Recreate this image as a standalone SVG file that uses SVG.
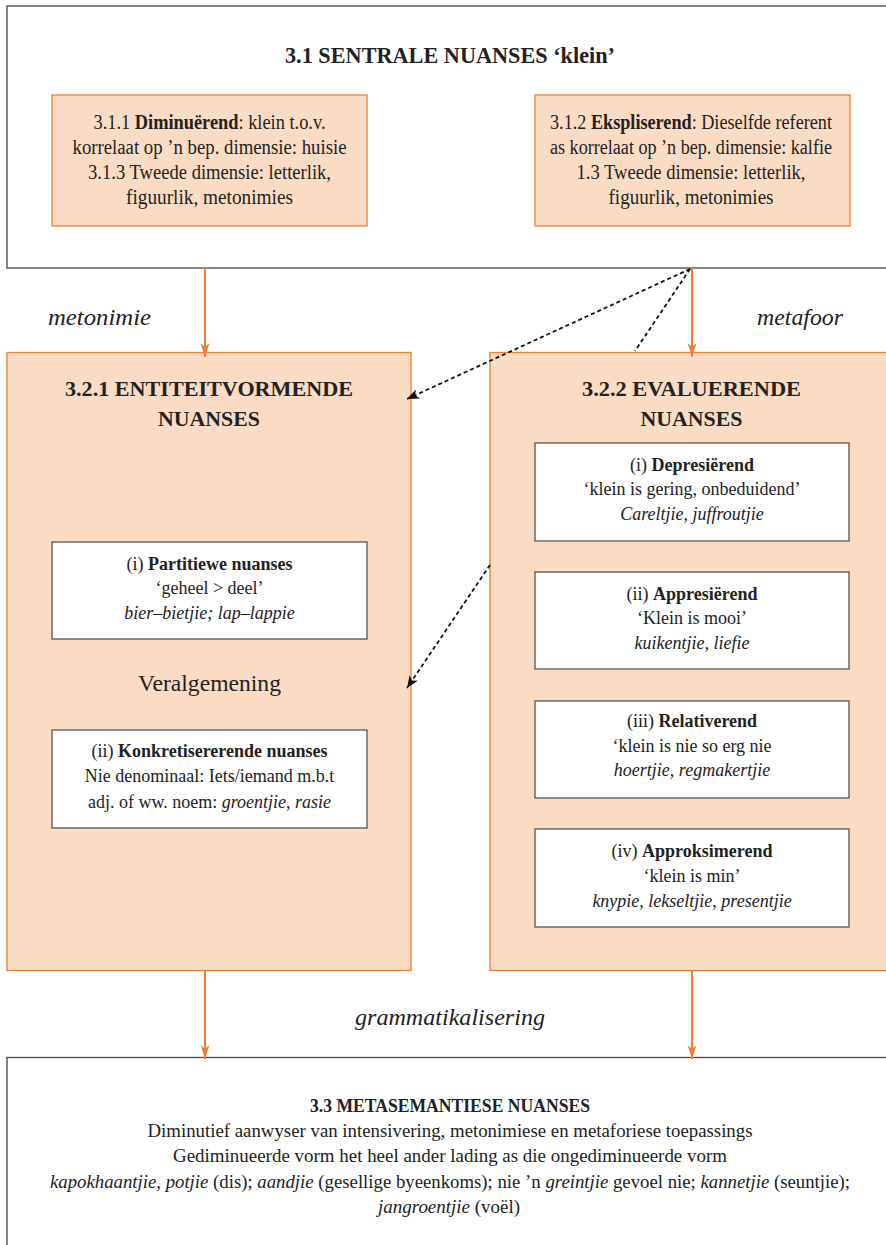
<svg xmlns="http://www.w3.org/2000/svg" width="886" height="1245" viewBox="0 0 886 1245">
<defs>
<style>
text{font-family:"Liberation Serif","Times New Roman",serif;fill:#222;text-anchor:middle}
.frame{fill:#fff;stroke:#444;stroke-width:1.3}
.peach{fill:#fadcc5;stroke:#ee7d32;stroke-width:1.3}
.white{fill:#fff;stroke:#555;stroke-width:1.3}
.t20{font-size:20px}
.t18{font-size:18px}
.h22{font-size:22px;font-weight:bold}
.lab{font-size:23px;font-style:italic}
.or{stroke:#ee7d32;stroke-width:2;fill:none}
.ds{stroke:#111;stroke-width:1.8;stroke-dasharray:4 3;fill:none}
b,.b{font-weight:bold}
.i{font-style:italic}
</style>
<marker id="oa" viewBox="-1 -6 16 12" refX="14" refY="0" markerWidth="16" markerHeight="12" markerUnits="userSpaceOnUse" orient="auto">
<path d="M0,-4.5 L14,0 L0,4.5 L4,0 Z" fill="#ee7d32"/>
</marker>
<marker id="ba" viewBox="-1 -6 14 12" refX="12" refY="0" markerWidth="14" markerHeight="12" markerUnits="userSpaceOnUse" orient="auto">
<path d="M0,-5 L12,0 L0,5 L3,0 Z" fill="#111"/>
</marker>
</defs>

<g id="n31">
<rect class="frame" x="7" y="6" width="900" height="262"/>
<text class="h22" x="450" y="63" textLength="330" lengthAdjust="spacingAndGlyphs" style="font-size:23px">3.1 SENTRALE NUANSES ‘klein’</text>
</g>

<g id="n311">
<rect class="peach" x="52" y="95" width="315" height="131"/>
<text class="t20" x="209.5" y="129" textLength="232" lengthAdjust="spacingAndGlyphs">3.1.1 <tspan class="b">Diminuërend</tspan>: klein t.o.v.</text>
<text class="t20" x="209.5" y="154" textLength="274" lengthAdjust="spacingAndGlyphs">korrelaat op ’n bep. dimensie: huisie</text>
<text class="t20" x="209.5" y="179" textLength="243" lengthAdjust="spacingAndGlyphs">3.1.3 Tweede dimensie: letterlik,</text>
<text class="t20" x="209.5" y="204" textLength="167" lengthAdjust="spacingAndGlyphs">figuurlik, metonimies</text>
</g>

<g id="n312">
<rect class="peach" x="535" y="95" width="315" height="131"/>
<text class="t20" x="691" y="129" textLength="282" lengthAdjust="spacingAndGlyphs">3.1.2 <tspan class="b">Ekspliserend</tspan>: Dieselfde referent</text>
<text class="t20" x="691" y="154" textLength="282" lengthAdjust="spacingAndGlyphs">as korrelaat op ’n bep. dimensie: kalfie</text>
<text class="t20" x="691" y="179" textLength="229" lengthAdjust="spacingAndGlyphs">1.3 Tweede dimensie: letterlik,</text>
<text class="t20" x="691" y="204" textLength="165" lengthAdjust="spacingAndGlyphs">figuurlik, metonimies</text>
</g>

<g id="n321">
<rect class="peach" x="7" y="352.5" width="404" height="618"/>
<text class="h22" x="209" y="396" textLength="288" lengthAdjust="spacingAndGlyphs">3.2.1 ENTITEITVORMENDE</text>
<text class="h22" x="209" y="426" textLength="102" lengthAdjust="spacingAndGlyphs">NUANSES</text>
<text x="209.5" y="691" style="font-size:23px" textLength="143" lengthAdjust="spacingAndGlyphs">Veralgemening</text>
</g>

<g id="n321i">
<rect class="white" x="52" y="542" width="315" height="97"/>
<text class="t18" x="209.5" y="570">(i) <tspan class="b">Partitiewe nuanses</tspan></text>
<text class="t18" x="209.5" y="594">‘geheel &gt; deel’</text>
<text class="t18 i" x="209.5" y="619">bier–bietjie; lap–lappie</text>
</g>

<g id="n321ii">
<rect class="white" x="52" y="730" width="315" height="98"/>
<text class="t18" x="209.5" y="757">(ii) <tspan class="b">Konkretisererende nuanses</tspan></text>
<text class="t18" x="209.5" y="782">Nie denominaal: Iets/iemand m.b.t</text>
<text class="t18" x="209.5" y="808">adj. of ww. noem: <tspan class="i">groentjie, rasie</tspan></text>
</g>

<g id="n322">
<rect class="peach" x="490" y="352.5" width="420" height="618"/>
<text class="h22" x="691.5" y="396" textLength="219" lengthAdjust="spacingAndGlyphs">3.2.2 EVALUERENDE</text>
<text class="h22" x="691.5" y="426" textLength="102" lengthAdjust="spacingAndGlyphs">NUANSES</text>
</g>

<g id="n322i">
<rect class="white" x="535" y="443" width="314" height="98"/>
<text class="t18" x="692" y="471">(i) <tspan class="b">Depresiërend</tspan></text>
<text class="t18" x="692" y="495">‘klein is gering, onbeduidend’</text>
<text class="t18 i" x="692" y="520">Careltjie, juffroutjie</text>
</g>

<g id="n322ii">
<rect class="white" x="535" y="572" width="314" height="97"/>
<text class="t18" x="692" y="600">(ii) <tspan class="b">Appresiërend</tspan></text>
<text class="t18" x="692" y="624">‘Klein is mooi’</text>
<text class="t18 i" x="692" y="649">kuikentjie, liefie</text>
</g>

<g id="n322iii">
<rect class="white" x="535" y="701" width="314" height="97"/>
<text class="t18" x="692" y="727">(iii) <tspan class="b">Relativerend</tspan></text>
<text class="t18" x="692" y="752">‘klein is nie so erg nie</text>
<text class="t18 i" x="692" y="776">hoertjie, regmakertjie</text>
</g>

<g id="n322iv">
<rect class="white" x="535" y="829" width="314" height="98"/>
<text class="t18" x="692" y="857">(iv) <tspan class="b">Approksimerend</tspan></text>
<text class="t18" x="692" y="882">‘klein is min’</text>
<text class="t18 i" x="692" y="907">knypie, lekseltjie, presentjie</text>
</g>

<g id="n33">
<rect class="frame" x="7" y="1057.5" width="900" height="200"/>
<text class="b" x="450" y="1112" style="font-size:19px" textLength="280" lengthAdjust="spacingAndGlyphs">3.3 METASEMANTIESE NUANSES</text>
<text x="450" y="1137" style="font-size:19px" textLength="605" lengthAdjust="spacingAndGlyphs">Diminutief aanwyser van intensivering, metonimiese en metaforiese toepassings</text>
<text x="450" y="1162" style="font-size:19px" textLength="554" lengthAdjust="spacingAndGlyphs">Gediminueerde vorm het heel ander lading as die ongediminueerde vorm</text>
<text x="450" y="1188" style="font-size:19px" textLength="800" lengthAdjust="spacingAndGlyphs"><tspan class="i">kapokhaantjie, potjie</tspan> (dis); <tspan class="i">aandjie</tspan> (gesellige byeenkoms); nie ’n <tspan class="i">greintjie</tspan> gevoel nie; <tspan class="i">kannetjie</tspan> (seuntjie);</text>
<text x="449" y="1213" style="font-size:19px" textLength="142" lengthAdjust="spacingAndGlyphs"><tspan class="i">jangroentjie</tspan> (voël)</text>
</g>

<g id="connectors">
<line class="or" x1="205" y1="268" x2="205" y2="357" marker-end="url(#oa)"/>
<line class="or" x1="692" y1="268" x2="692" y2="357" marker-end="url(#oa)"/>
<line class="or" x1="205" y1="971" x2="205" y2="1059" marker-end="url(#oa)"/>
<line class="or" x1="692" y1="971" x2="692" y2="1059" marker-end="url(#oa)"/>
<line class="ds" x1="690" y1="269" x2="407" y2="399" marker-end="url(#ba)"/>
<line class="ds" x1="690" y1="269" x2="635" y2="351"/>
<line class="ds" x1="490" y1="565" x2="407" y2="688" marker-end="url(#ba)"/>
<text class="lab" x="99.5" y="325" textLength="103" lengthAdjust="spacingAndGlyphs">metonimie</text>
<text class="lab" x="800" y="325" textLength="86" lengthAdjust="spacingAndGlyphs">metafoor</text>
<text class="lab" x="450" y="1025" textLength="190" lengthAdjust="spacingAndGlyphs">grammatikalisering</text>
</g>
</svg>
